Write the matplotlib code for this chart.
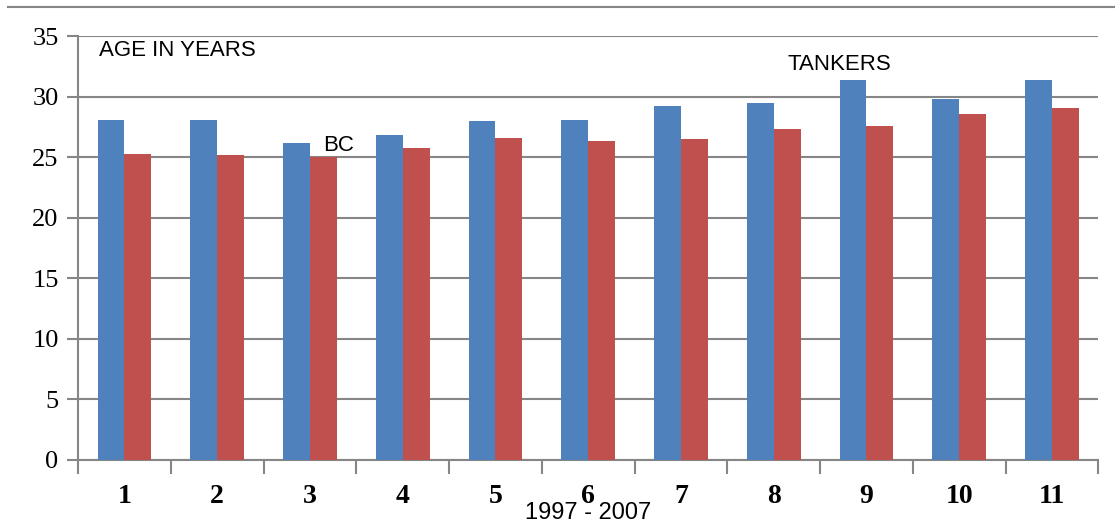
import numpy as np
import matplotlib.pyplot as plt

# ship age by period (1997 - 2007)
periods = ['1', '2', '3', '4', '5', '6', '7', '8', '9', '10', '11']
tankers = [28.1, 28.1, 26.2, 26.8, 28.0, 28.1, 29.2, 29.5, 31.4, 29.8, 31.4]
bulk_carriers = [25.3, 25.2, 25.0, 25.8, 26.6, 26.3, 26.5, 27.3, 27.6, 28.6, 29.1]
y_ticks = [0, 5, 10, 15, 20, 25, 30, 35]

blue = '#4F81BD'
red = '#C0504D'
grid_col = '#868686'

fig = plt.figure(figsize=(11.15, 5.23), dpi=100)
ax = fig.add_axes([0.07, 0.1205, 0.915, 0.8105])

x = np.arange(len(periods))
w = 0.29
ax.bar(x - w / 2, tankers, w, color=blue, zorder=3)
ax.bar(x + w / 2, bulk_carriers, w, color=red, zorder=3)

ax.set_xlim(-0.5, len(periods) - 0.5)
ax.set_ylim(0, 35)
ax.set_yticks(y_ticks)
ax.yaxis.grid(True, color=grid_col, linewidth=1.5, zorder=0)

ax.set_xticks(x)
ax.set_xticklabels(periods, fontfamily='Liberation Serif', fontweight='bold', fontsize=20)
ax.set_xticks(np.arange(len(periods) + 1) - 0.5, minor=True)
ax.tick_params(axis='x', which='major', length=0, pad=17)
ax.tick_params(axis='x', which='minor', length=10, width=1.5, color=grid_col, direction='out')
ax.tick_params(axis='y', length=8, width=1.5, color=grid_col, pad=6)
for lbl in ax.get_yticklabels():
    lbl.set_fontfamily('Liberation Serif')
    lbl.set_fontsize(19)

for side in ['top', 'right']:
    ax.spines[side].set_visible(False)
ax.spines['left'].set_color(grid_col)
ax.spines['left'].set_linewidth(1.5)
ax.spines['bottom'].set_color(grid_col)
ax.spines['bottom'].set_linewidth(1.5)

ax.text(0.021, 0.965, 'AGE IN YEARS', transform=ax.transAxes, fontsize=16,
        fontfamily='Liberation Sans', va='center')
ax.text(2.14, 25.1, 'BC', fontsize=16, fontfamily='Liberation Sans', va='bottom')
ax.text(7.15, 31.8, 'TANKERS', fontsize=16, fontfamily='Liberation Sans', va='bottom')

ax.set_xlabel('1997 - 2007', fontsize=17, fontfamily='Liberation Sans', labelpad=-5)

# chart border line on top
fig.add_artist(plt.Line2D([0.007, 1.0], [0.987, 0.987], color=grid_col, linewidth=1.5))

fig.savefig('out.png', dpi=100)
